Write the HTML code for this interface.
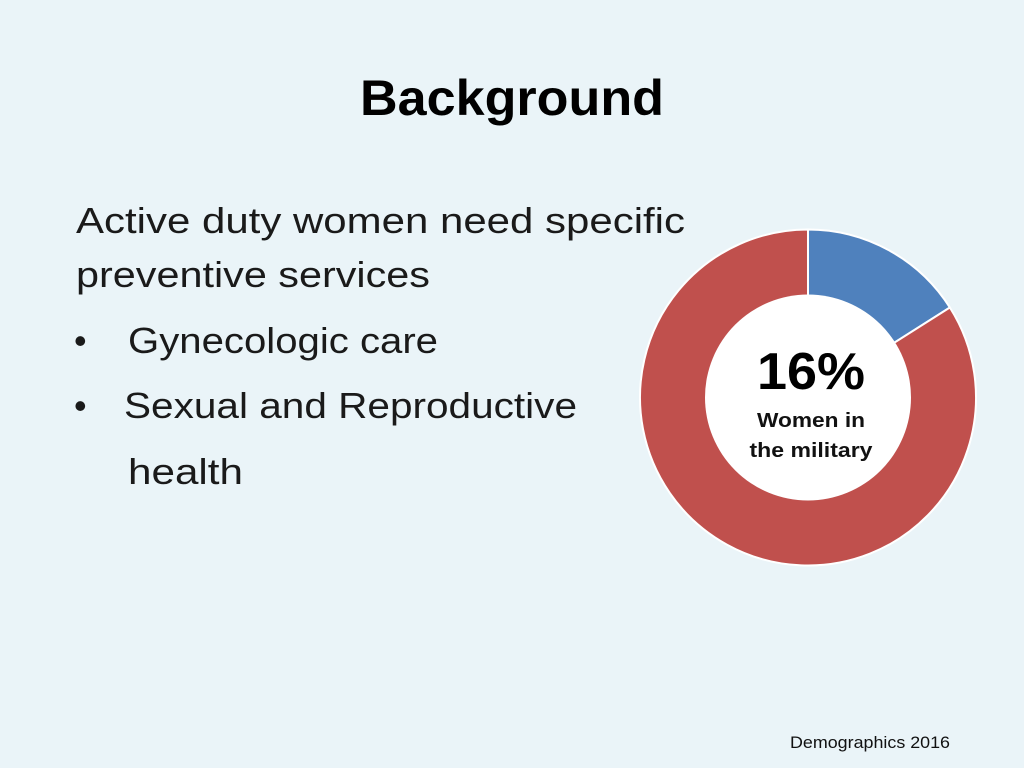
<!DOCTYPE html>
<html><head><meta charset="utf-8"><style>
html,body{margin:0;padding:0;background:#EAF4F8;}
svg{display:block;font-family:"Liberation Sans",sans-serif;}
</style></head><body>
<svg width="1024" height="768" viewBox="0 0 1024 768">
<rect width="1024" height="768" fill="#EAF4F8"/>
<text x="360" y="115" font-size="50" font-weight="bold" fill="#000" textLength="304" lengthAdjust="spacingAndGlyphs">Background</text>
<g fill="#1a1a1a" font-size="36">
<text x="76" y="233" textLength="609" lengthAdjust="spacingAndGlyphs">Active duty women need specific</text>
<text x="76" y="287" textLength="354" lengthAdjust="spacingAndGlyphs">preventive services</text>
<text x="74" y="353">•</text>
<text x="128" y="353" textLength="310" lengthAdjust="spacingAndGlyphs">Gynecologic care</text>
<text x="74" y="418">•</text>
<text x="124" y="418" textLength="453" lengthAdjust="spacingAndGlyphs">Sexual and Reproductive</text>
<text x="128" y="484" textLength="115" lengthAdjust="spacingAndGlyphs">health</text>
</g>
<g id="donut"></g>
<text x="811" y="389" font-size="52" font-weight="bold" text-anchor="middle" fill="#000" textLength="108" lengthAdjust="spacingAndGlyphs">16%</text>
<text x="811" y="427" font-size="20" font-weight="bold" text-anchor="middle" fill="#111" textLength="108" lengthAdjust="spacingAndGlyphs">Women in</text>
<text x="811" y="457" font-size="20" font-weight="bold" text-anchor="middle" fill="#111" textLength="123" lengthAdjust="spacingAndGlyphs">the military</text>
<text x="790" y="748" font-size="17" fill="#111" textLength="160" lengthAdjust="spacingAndGlyphs">Demographics 2016</text>
</svg>
<script>
const categories = ["Women", "Men"];
const values = [16, 84];
const colors = ["#4F81BD", "#C0504D"];
const cx = 808, cy = 397.5, rOuter = 168, rInner = 103;
const g = document.getElementById('donut');
const NS = "http://www.w3.org/2000/svg";
const total = values.reduce((a,b)=>a+b,0);
function pt(r, a){ return [cx + r*Math.sin(a), cy - r*Math.cos(a)]; }
let start = 0;
values.forEach((v,i)=>{
  const end = start + v/total*2*Math.PI;
  const large = (end-start) > Math.PI ? 1 : 0;
  const [x1,y1] = pt(rOuter,start), [x2,y2] = pt(rOuter,end);
  const p = document.createElementNS(NS,'path');
  p.setAttribute('d', `M${cx},${cy} L${x1},${y1} A${rOuter},${rOuter} 0 ${large} 1 ${x2},${y2} Z`);
  p.setAttribute('fill', colors[i]);
  p.setAttribute('stroke', '#fff');
  p.setAttribute('stroke-width', '2');
  
  
  g.appendChild(p);
  start = end;
});
const hole = document.createElementNS(NS,'circle');
hole.setAttribute('cx', cx); hole.setAttribute('cy', cy); hole.setAttribute('r', rInner);
hole.setAttribute('fill', '#fff');


g.appendChild(hole);
</script>
</body></html>
